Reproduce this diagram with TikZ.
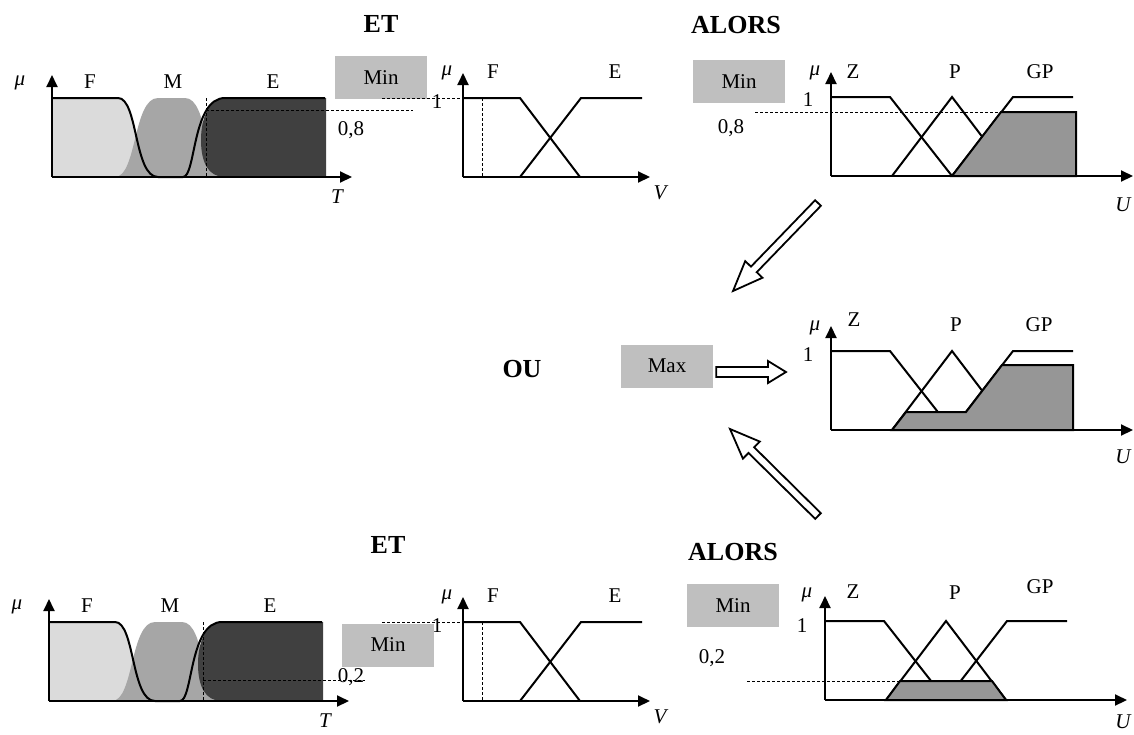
\documentclass[tikz,border=0pt]{standalone}
\usepackage{fontspec}
\setmainfont{Liberation Serif}
\usetikzlibrary{arrows.meta,calc}
\definecolor{boxgray}{gray}{0.75}
\definecolor{Flight}{gray}{0.86}
\definecolor{Mgray}{gray}{0.65}
\definecolor{Edark}{gray}{0.25}
\definecolor{resgray}{gray}{0.59}
\tikzset{
  ax/.style={line width=2pt, -{Triangle[length=12pt,width=11pt]}},
  mf/.style={line width=2pt, line join=miter},
  dsh/.style={line width=1pt, dash pattern=on 3pt off 2pt},
  res/.style={fill=resgray, draw=black, line width=2pt, line join=miter},
  opbox/.style={fill=boxgray, minimum width=92pt, minimum height=43pt, inner sep=0pt, font=\fontsize{21}{21}\selectfont},
  lbl/.style={font=\fontsize{21}{21}\selectfont, inner sep=0pt},
  ilbl/.style={font=\fontsize{21}{21}\selectfont\itshape, inner sep=0pt},
  head/.style={font=\fontsize{26}{26}\selectfont\bfseries, inner sep=0pt},
  harrow/.style={draw=black, line width=1.8pt, fill=white, line join=miter},
}
% hollow block arrow: #1 tail, #2 tip, #3 name, #4 shaft half width, #5 head half width, #6 head length
\newcommand{\hollowarrow}[6]{%
  \coordinate (#3h) at ($(#2)!#6!(#1)$);
  \draw[harrow] ($(#1)!#4!90:(#2)$) -- ($(#3h)!#4!90:(#2)$) -- ($(#3h)!#5!90:(#2)$) -- (#2)
    -- ($(#3h)!#5!-90:(#2)$) -- ($(#3h)!#4!-90:(#2)$) -- ($(#1)!#4!-90:(#2)$) -- cycle;
}
% chart of T with sigmoid sets
\newcommand{\Tchart}[1]{%
  \fill[Flight] (52,177) -- (52,98) -- (118,98) .. controls (138,98) and (134,177) .. (158,177) -- cycle;
  \fill[Mgray] (115,177) .. controls (137,177) and (133,98) .. (158,98) .. controls (166,98) and (178,98) .. (185,98) .. controls (209,98) and (204,177) .. (228,177) -- cycle;
  \fill[Edark] (326,98) -- (228,98) .. controls (205,98) and (201,125) .. (201,140) .. controls (201,162) and (208,177) .. (225,177) -- (326,177) -- cycle;
  \draw[mf] (52,98) -- (118,98) .. controls (138,98) and (134,177) .. (158,177) -- (183,177) .. controls (196,177) and (192,98) .. (225,98) -- (325,98);
  \coordinate (#1o) at (52,177);
  \coordinate (#1y) at (52,75);
  \coordinate (#1x) at (352,177);
  \draw[ax] (#1o) -- (#1y);
  \draw[ax] (#1o) -- (#1x);
  \node[ilbl] (#1mu) at (20,83) {μ};
  \node[lbl] (#1F) at (90,82) {F};
  \node[lbl] (#1M) at (173,82) {M};
  \node[lbl] (#1E) at (273,82) {E};
}
% chart of V
\newcommand{\Vchart}[1]{%
  \draw[mf] (463,98) -- (520,98) -- (580,177);
  \draw[mf] (520,177) -- (581,98) -- (642,98);
  \draw[dsh] (482,98) -- (482,177);
  \draw[dsh] (382,98) -- (463,98);
  \coordinate (#1o) at (463,177);
  \coordinate (#1y) at (463,73);
  \coordinate (#1x) at (650,177);
  \draw[ax] (#1o) -- (#1y);
  \draw[ax] (#1o) -- (#1x);
  \node[ilbl] (#1mu) at (447,73) {μ};
  \node[lbl] (#1F) at (493,72) {F};
  \node[lbl] (#1E) at (615,72) {E};
  \node[lbl] (#1one) at (437,102) {1};
  \node[ilbl] (#1V) at (660,193) {V};
}
% chart of U: #1 prefix, #2 result path
\newcommand{\Uchart}[2]{%
  \draw[mf] (831,97) -- (890,97) -- (952,176);
  \draw[mf] (892,176) -- (952,97) -- (1012,176);
  \draw[mf] (952,176) -- (1013,97) -- (1073,97);
  \filldraw[res] #2;
  \coordinate (#1o) at (831,176);
  \coordinate (#1y) at (831,72);
  \coordinate (#1x) at (1133,176);
  \draw[ax] (#1o) -- (#1y);
  \draw[ax] (#1o) -- (#1x);
}
\begin{document}
\begin{tikzpicture}[x=1pt,y=-1pt]
\useasboundingbox (0,0) rectangle (1134,734);
\fill[white] (0,0) rectangle (1134,734);

% ---------- headings ----------
\node[head] (et1) at (381,24) {ET};
\node[head] (alors1) at (736,25) {ALORS};
\node[head] (ou) at (522,369) {OU};
\node[head] (et2) at (388,545) {ET};
\node[head] (alors2) at (733,552) {ALORS};

% ---------- top row ----------
\Tchart{ta}
\draw[dsh] (206,98) -- (206,177);
\draw[dsh] (206,110) -- (413,110);
\node[lbl] (ta08) at (351,130) {0,8};
\node[ilbl] (taT) at (337,197) {T};

\node[opbox] (min1) at (381,77.5) {Min};
\Vchart{tb}

\node[opbox] (min2) at (739,81.5) {Min};
\Uchart{tc}{(952,176) -- (1001,112) -- (1076,112) -- (1076,176) -- cycle}
\draw[dsh] (755,112) -- (1001,112);
\node[ilbl] (tcmu) at (815,73) {μ};
\node[lbl] (tcZ) at (853,72) {Z};
\node[lbl] (tcP) at (955,72) {P};
\node[lbl] (tcGP) at (1040,72) {GP};
\node[lbl] (tcone) at (808,100) {1};
\node[lbl] (tc08) at (731,128) {0,8};
\node[ilbl] (tcU) at (1123,205) {U};

% ---------- middle ----------
\node[opbox] (max) at (667,366) {Max};
\begin{scope}[shift={(0,254)}]
\Uchart{mc}{(892,176) -- (906,158) -- (966,158) -- (1002,111) -- (1073,111) -- (1073,176) -- cycle}
\end{scope}
\node[ilbl] (mcmu) at (815,328) {μ};
\node[lbl] (mcZ) at (854,320) {Z};
\node[lbl] (mcP) at (956,325) {P};
\node[lbl] (mcGP) at (1039,325) {GP};
\node[lbl] (mcone) at (808,355) {1};
\node[ilbl] (mcU) at (1123,457) {U};

% hollow arrows
\coordinate (a1t) at (818,203);
\coordinate (a1p) at (733,291);
\hollowarrow{a1t}{a1p}{a1}{4pt}{12pt}{30pt}
\coordinate (a2t) at (818,516);
\coordinate (a2p) at (730,429);
\hollowarrow{a2t}{a2p}{a2}{4pt}{12pt}{30pt}
\coordinate (a3t) at ($(max.east)+(3,6)$);
\coordinate (a3p) at (786,372);
\hollowarrow{a3t}{a3p}{a3}{5pt}{11pt}{18pt}

% ---------- bottom row ----------
\begin{scope}[shift={(-3,524)}]
\Tchart{ba}
\end{scope}
\draw[dsh] (203,622) -- (203,701);
\draw[dsh] (203,680) -- (365,680);
\node[ilbl] (baT) at (325,721) {T};

\begin{scope}[shift={(0,524)}]
\Vchart{bb}
\end{scope}
\node[opbox] (min3) at (388,645) {Min};
\node[lbl] (ba02) at (351,677) {0,2};

\node[opbox] (min4) at (733,605.5) {Min};
\begin{scope}[shift={(-6,524)}]
\Uchart{bc}{(892,176) -- (906,157) -- (998,157) -- (1012,176) -- cycle}
\end{scope}
\draw[dsh] (747,681) -- (900,681);
\node[ilbl] (bcmu) at (807,595) {μ};
\node[lbl] (bcZ) at (853,592) {Z};
\node[lbl] (bcP) at (955,593) {P};
\node[lbl] (bcGP) at (1040,587) {GP};
\node[lbl] (bcone) at (802,626) {1};
\node[lbl] (bc02) at (712,658) {0,2};
\node[ilbl] (bcU) at (1123,722) {U};
\end{tikzpicture}
\end{document}
